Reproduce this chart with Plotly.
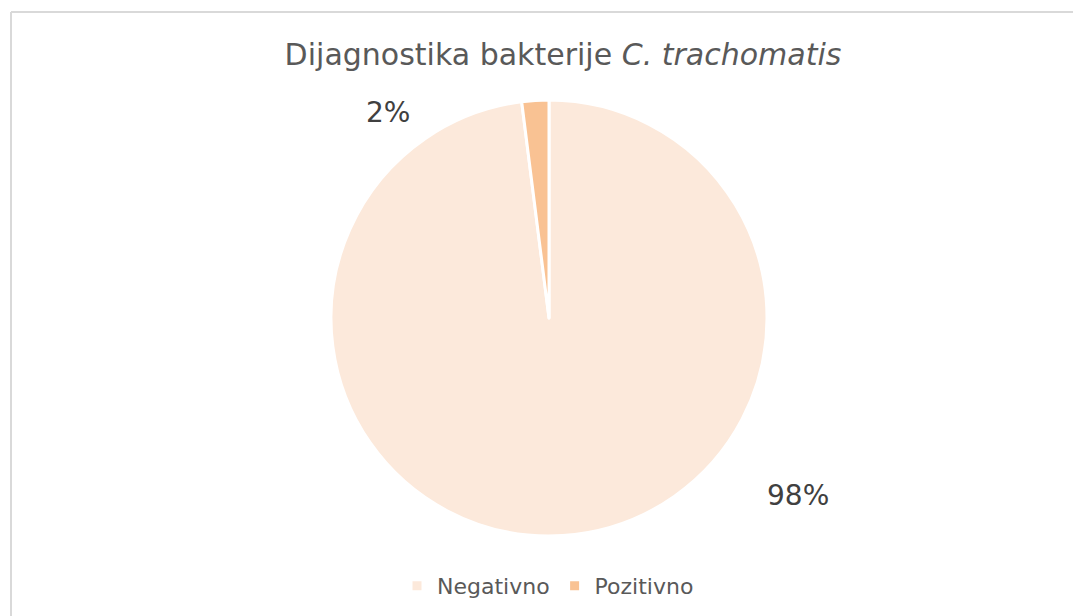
import plotly.graph_objects as go

categories = ["Negativno", "Pozitivno"]
values = [98, 2]
colors = ["#FCE9DB", "#F9C293"]
title_text = "Dijagnostika bakterije <i>C. trachomatis</i>"

W, H = 1073, 616
total = sum(values)
pcts = [f"{round(v / total * 100)}%" for v in values]

fig = go.Figure()
fig.add_trace(go.Pie(
    labels=categories,
    values=values,
    sort=False,
    direction="clockwise",
    rotation=0,
    marker=dict(colors=colors, line=dict(color="white", width=3)),
    textinfo="none",
    hoverinfo="label+percent",
    domain=dict(x=[331 / W, 767 / W], y=[1 - 536 / H, 1 - 100 / H]),
))

# percent labels placed like the original (outside)
label_pos = {"Negativno": (798, 495), "Pozitivno": (388, 113)}
for cat, p in zip(categories, pcts):
    x, y = label_pos[cat]
    fig.add_annotation(text=p, x=x / W, y=1 - y / H, xref="paper", yref="paper",
                       showarrow=False, xanchor="center", yanchor="middle",
                       font=dict(family="DejaVu Sans", size=28, color="#404040"))

fig.update_layout(
    width=W, height=H,
    margin=dict(l=0, r=0, t=0, b=0),
    paper_bgcolor="white",
    plot_bgcolor="white",
    font=dict(family="DejaVu Sans", color="#595959"),
    title=dict(text=title_text, x=563 / W, xanchor="center", y=1 - 54 / H,
               yanchor="middle", yref="container",
               font=dict(family="DejaVu Sans", size=30, color="#595959")),
    legend=dict(orientation="h", x=548 / W, xanchor="center", y=1 - 586 / H,
                yanchor="middle", font=dict(family="DejaVu Sans", size=22, color="#595959"),
                itemwidth=30, traceorder="normal"),
    shapes=[
        dict(type="line", xref="paper", yref="paper", x0=11 / W, x1=11 / W, y0=0, y1=1 - 12 / H,
             line=dict(color="#D9D9D9", width=2)),
        dict(type="line", xref="paper", yref="paper", x0=11 / W, x1=1, y0=1 - 12 / H, y1=1 - 12 / H,
             line=dict(color="#D9D9D9", width=2)),
    ],
)

fig.write_html("out.html", config={"displayModeBar": False},
               post_script="document.body.style.margin='0';")
